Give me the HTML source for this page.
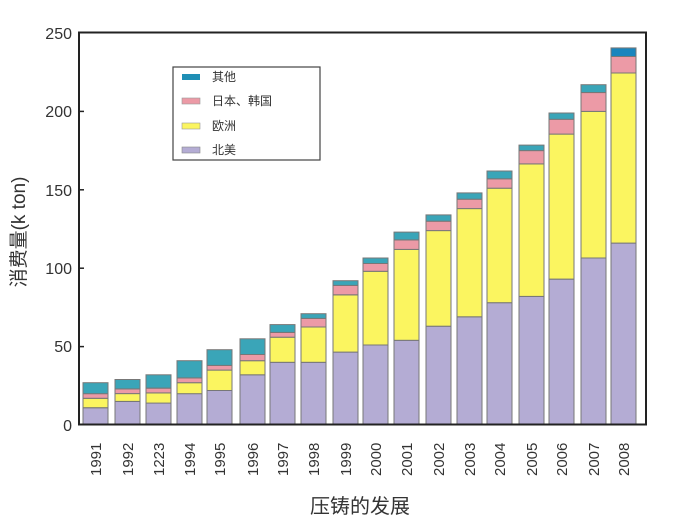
<!DOCTYPE html>
<html><head><meta charset="utf-8"><style>
html,body{margin:0;padding:0;background:#fff;}
svg{display:block;font-family:"Liberation Sans","Noto Sans CJK SC",sans-serif;}
</style></head><body>
<svg id="c" width="690" height="531" viewBox="0 0 690 531" xmlns="http://www.w3.org/2000/svg">
<rect x="0" y="0" width="690" height="531" fill="#fff"/>
<g id="bars"></g>
<rect x="79" y="32.5" width="567" height="392" fill="none" stroke="#222" stroke-width="2"/>
<g font-size="16" fill="#333" text-anchor="end">
<text x="72" y="431">0</text>
<text x="72" y="352">50</text>
<text x="72" y="274">100</text>
<text x="72" y="196">150</text>
<text x="72" y="117">200</text>
<text x="72" y="39">250</text>
</g>
<g stroke="#222" stroke-width="1.5">
<line x1="79" y1="346.6" x2="84" y2="346.6"/><line x1="79" y1="268.2" x2="84" y2="268.2"/>
<line x1="79" y1="189.8" x2="84" y2="189.8"/><line x1="79" y1="111.4" x2="84" y2="111.4"/>
</g>
<text transform="translate(25,232) rotate(-90)" font-size="19" fill="#333" text-anchor="middle">消费量(k ton)</text>
<text x="360" y="513" font-size="20" fill="#333" text-anchor="middle">压铸的发展</text>
<g id="xl" font-size="15" fill="#333"></g>
<rect x="173" y="67" width="147" height="93" fill="#fff" stroke="#444" stroke-width="1.2"/>
<g font-size="12" fill="#333">
<rect x="182" y="74" width="18" height="6" fill="#1f8fb5"/><text x="212" y="81">其他</text>
<rect x="182" y="98" width="18" height="6" fill="#ec9aa6" stroke="#999" stroke-width=".6"/><text x="212" y="105">日本、韩国</text>
<rect x="182" y="123" width="18" height="6" fill="#fbf560" stroke="#999" stroke-width=".6"/><text x="212" y="130">欧洲</text>
<rect x="182" y="147" width="18" height="6" fill="#b4acd4" stroke="#888" stroke-width=".6"/><text x="212" y="154">北美</text>
</g>
</svg>
<script>
var d=[[1991,83,11,6,3,7],[1992,115,15,5,3,6],[1223,146,14,6.5,3,8.5],[1994,177,20,7,3,11],[1995,207,22,13,3,10],[1996,240,32,9,4,10],[1997,270,40,16,3,5],[1998,301,40,22.5,5.5,3],[1999,333,46.5,36.5,6,3],[2000,363,51,47,5,3.5],[2001,394,54,58,6,5],[2002,426,63,61,6,4],[2003,457,69,69,6,4],[2004,487,78,73,6,5],[2005,519,82,84.5,8.5,3.5],[2006,549,93,92.5,9.5,4],[2007,581,106.5,93.5,12,5],[2008,611,116,108.5,10.5,5.5]];
var cols=["#b4acd4","#fbf560","#ec9aa6","#3aa5b8"];
var s="",xl="",k=1.568,b=425;
d.forEach(function(r,i){var y=b;for(var j=0;j<4;j++){var h=r[2+j]*k;y-=h;var c=cols[j];if(j==3&&i==17)c="#1a85bd";
s+='<rect x="'+r[1]+'" y="'+y.toFixed(1)+'" width="25" height="'+h.toFixed(1)+'" fill="'+c+'" stroke="#777" stroke-width="1"/>';}
var cx=r[1]+12.5;xl+='<text transform="translate('+(cx+5.5)+',476) rotate(-90)">'+r[0]+'</text>';});
document.getElementById("bars").innerHTML=s;document.getElementById("xl").innerHTML=xl;
</script>
</body></html>
